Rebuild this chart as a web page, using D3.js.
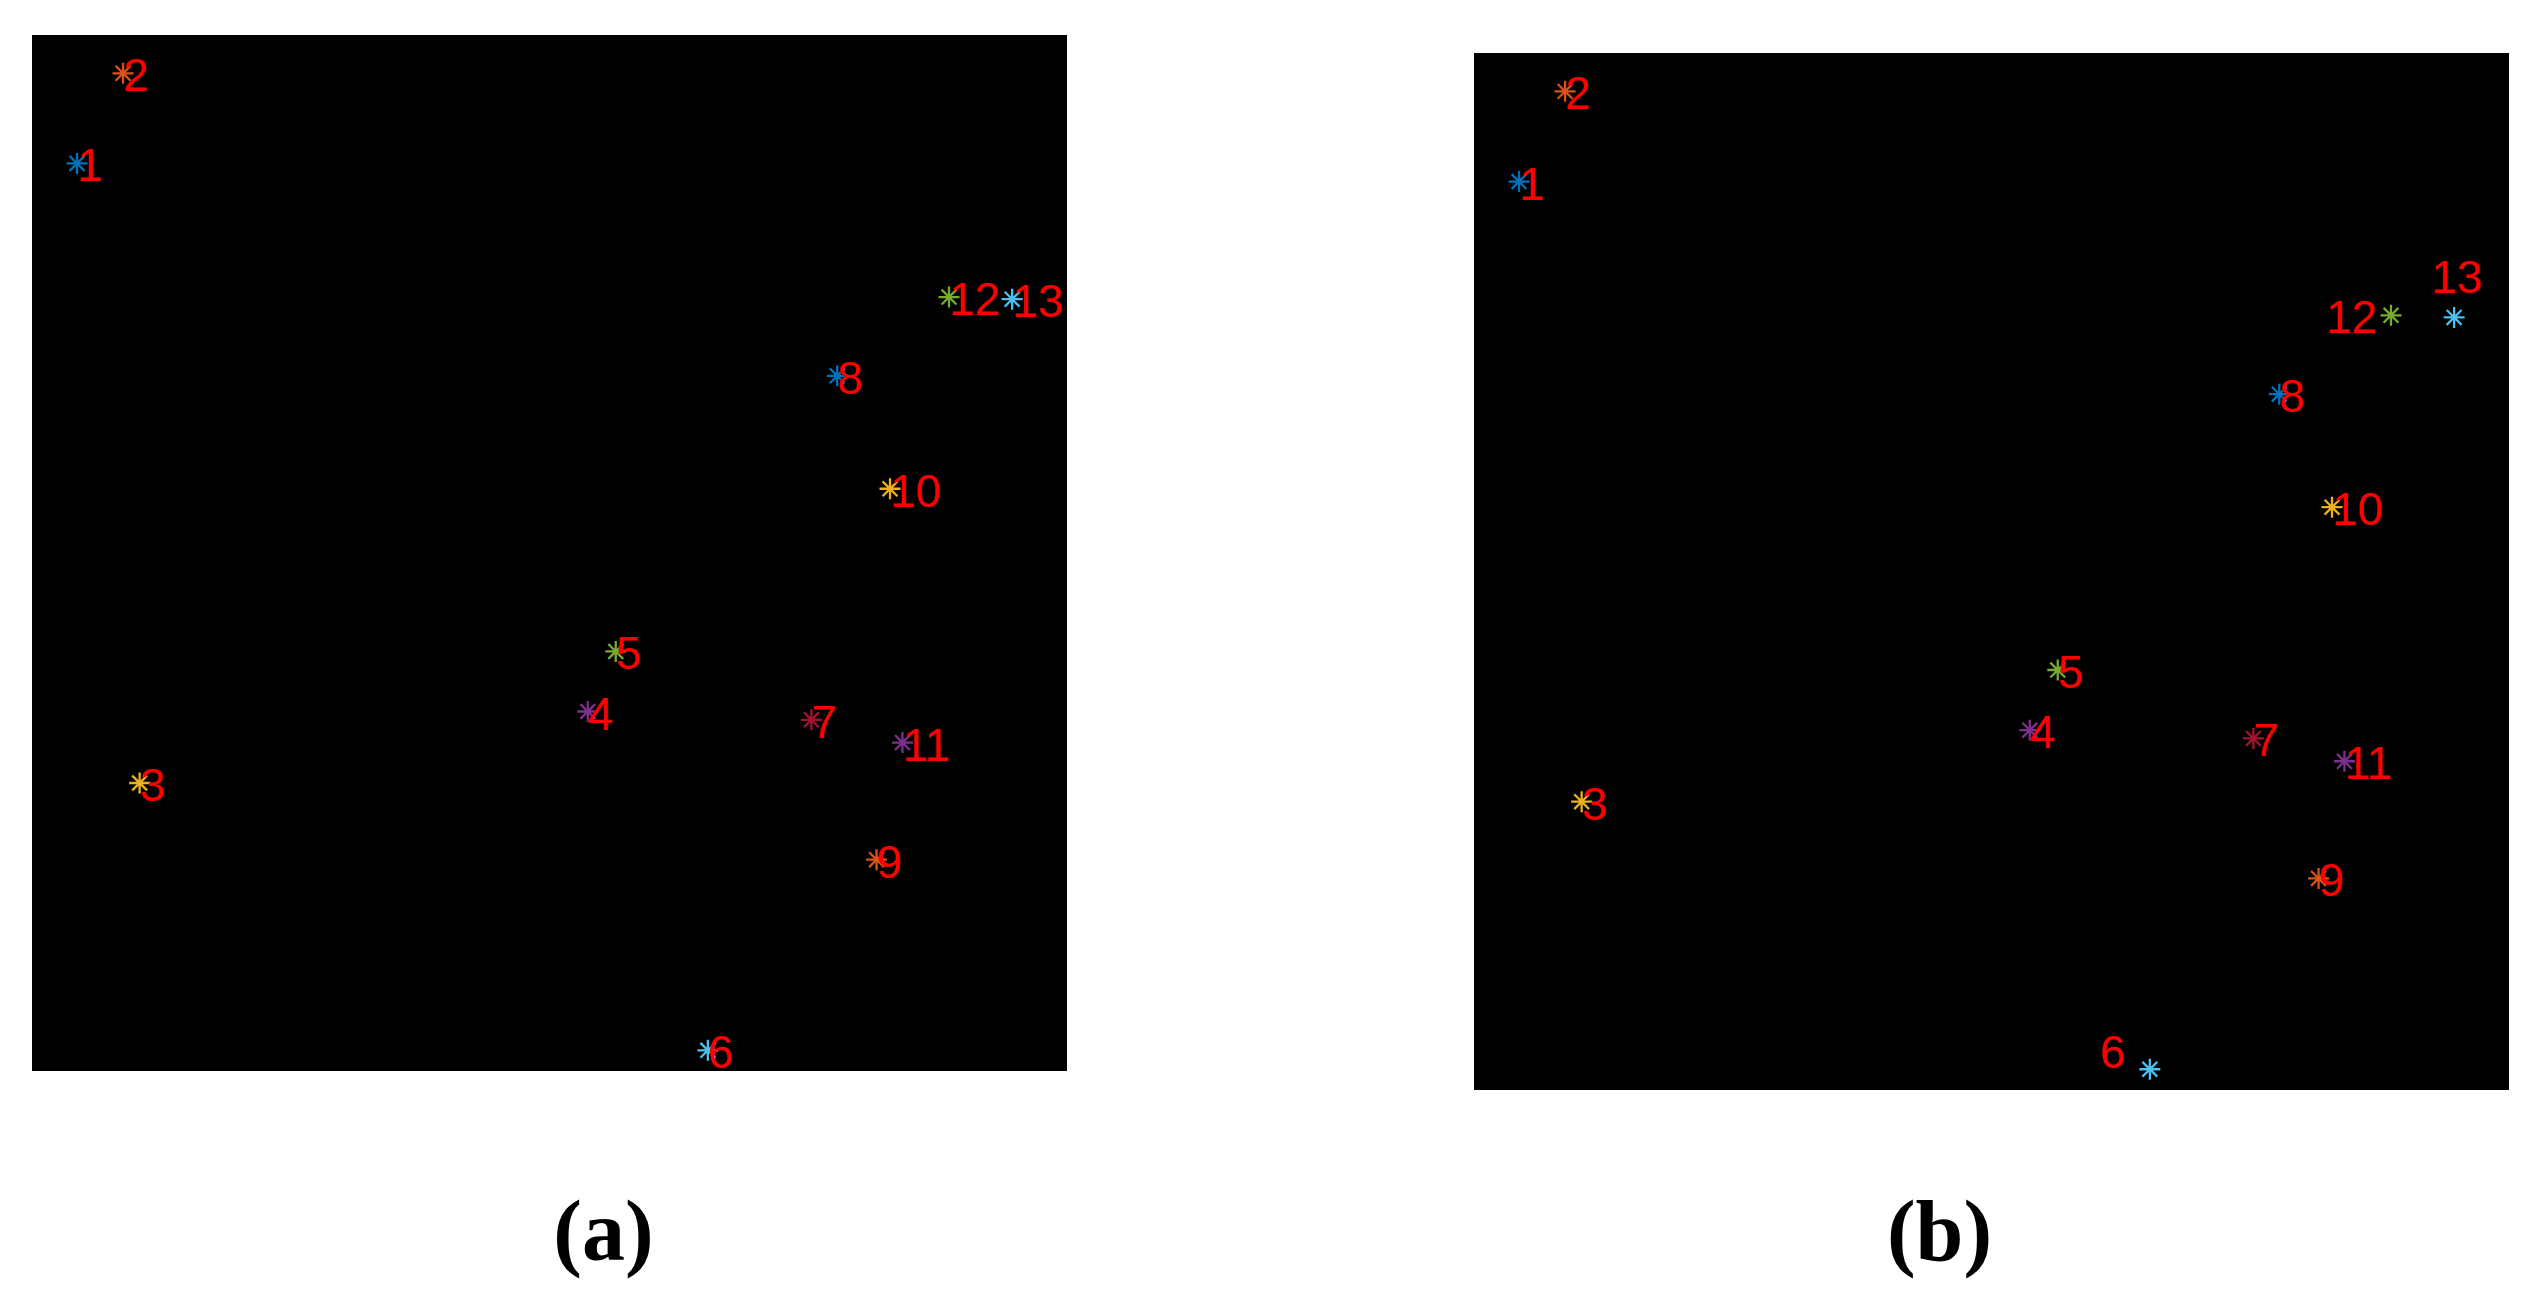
<!DOCTYPE html>
<html>
<head>
<meta charset="utf-8">
<script src="https://cdn.jsdelivr.net/npm/d3@7"></script>
<style>
  html, body { margin: 0; padding: 0; background: #ffffff; }
  svg { display: block; }
</style>
</head>
<body>
<script>
// ---- data (arbitrary planar units, 0..1000 on both axes) ----
const pointIds = [1, 2, 3, 4, 5, 6, 7, 8, 9, 10, 11, 12, 13];
const xValues  = [43.5, 88, 104, 537, 564, 653, 753, 778, 816, 829, 841, 886, 947];
const yValues  = [876, 963, 278, 347, 405, 20, 339, 671, 204, 562, 317, 747, 745];
const panelLabels = ["(a)", "(b)"];
const markerColors = ["#0072BD", "#D95319", "#EDB120", "#7E2F8E", "#77AC30", "#4DBEEE", "#A2142F"];

// label placement offsets (pixels) for panel (b); panel (a) uses none
const labelShiftB = {
  6:  [-50, -19],
  12: [-65, 0],
  13: [-23, -42]
};

const W = 2545, H = 1306;
const svg = d3.select("body").append("svg").attr("width", W).attr("height", H);
svg.append("rect").attr("width", W).attr("height", H).attr("fill", "#ffffff");

const panels = [
  { x0: 32,   x1: 1067, y0: 35, y1: 1071, cap: 603.5,  shifts: {} },
  { x0: 1474, x1: 2509, y0: 53, y1: 1090, cap: 1939.5, shifts: labelShiftB }
];

function asterisk(r) {
  const p = d3.path();
  const d = r * Math.SQRT1_2;
  p.moveTo(-r, 0); p.lineTo(r, 0);
  p.moveTo(0, -r); p.lineTo(0, r);
  p.moveTo(-d, -d); p.lineTo(d, d);
  p.moveTo(-d, d); p.lineTo(d, -d);
  return p.toString();
}
const starPath = asterisk(10.5);

const pts = pointIds.map((id, i) => ({ id, x: xValues[i], y: yValues[i], c: markerColors[i % markerColors.length] }));

panels.forEach((pn, k) => {
  const xs = d3.scaleLinear().domain([0, 1000]).range([pn.x0, pn.x1]);
  const ys = d3.scaleLinear().domain([0, 1000]).range([pn.y1, pn.y0]);
  const g = svg.append("g");
  g.append("rect")
    .attr("x", pn.x0).attr("y", pn.y0)
    .attr("width", pn.x1 - pn.x0).attr("height", pn.y1 - pn.y0)
    .attr("fill", "#000000");

  g.selectAll("path.m").data(pts).enter().append("path")
    .attr("class", "m")
    .attr("d", starPath)
    .attr("transform", d => `translate(${xs(d.x)},${ys(d.y)})`)
    .attr("fill", "none")
    .attr("stroke", d => d.c)
    .attr("stroke-width", 2.3);

  g.selectAll("text.lbl").data(pts).enter().append("text")
    .attr("class", "lbl")
    .attr("x", d => xs(d.x) + (pn.shifts[d.id] ? pn.shifts[d.id][0] : 0))
    .attr("y", d => ys(d.y) + 18 + (pn.shifts[d.id] ? pn.shifts[d.id][1] : 0))
    .attr("font-family", "'Liberation Sans', Arial, sans-serif")
    .attr("font-size", 46)
    .attr("fill", "#FF0000")
    .text(d => d.id);

  svg.append("text")
    .attr("x", pn.cap).attr("y", 1260)
    .attr("text-anchor", "middle")
    .attr("font-family", "'Liberation Serif', 'Times New Roman', serif")
    .attr("font-weight", "bold")
    .attr("font-size", 86)
    .attr("fill", "#000000")
    .text(panelLabels[k]);
});
</script>
</body>
</html>
